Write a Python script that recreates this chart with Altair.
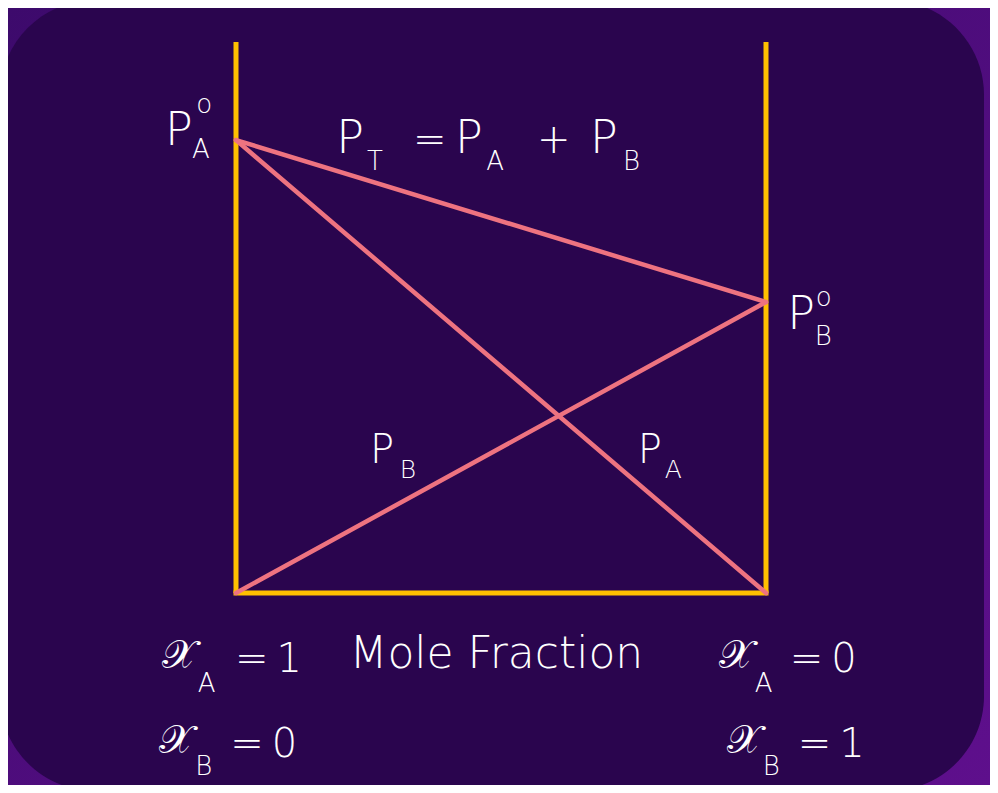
import altair as alt
import pandas as pd

# mole fraction of B, left to right
x_b = [0.0, 1.0]
# pressures (arbitrary units, frame top = 100)
p_a_star = 82.2
p_b_star = 52.8
series = ["P_T", "P_A", "P_B"]
series_start = [p_a_star, p_a_star, 0.0]
series_end = [p_b_star, 0.0, p_b_star]

rows = []
for s, a, b in zip(series, series_start, series_end):
    rows.append({"series": s, "xb": x_b[0], "p": a})
    rows.append({"series": s, "xb": x_b[1], "p": b})
lines_df = pd.DataFrame(rows)

frame_top = 100.0

# text annotations: label, x (mole fraction B), y (pressure), font size
labels = ["P", "o", "A",
          "P", "T", "=", "P", "A", "+", "P", "B",
          "P", "o", "B",
          "P", "B", "P", "A",
          "\U0001D4B3", "A", "=\u20091", "Mole Fraction", "\U0001D4B3", "A", "=\u20090",
          "\U0001D4B3", "B", "=\u20090", "\U0001D4B3", "B", "=\u20091"]
lab_x = [-0.134, -0.075, -0.083,
         0.189, 0.247, 0.334, 0.413, 0.472, 0.568, 0.668, 0.730,
         1.040, 1.094, 1.092,
         0.253, 0.309, 0.758, 0.809,
         -0.140, -0.072, -0.002, 0.214, 0.911, 0.979, 1.045,
         -0.145, -0.077, -0.011, 0.926, 0.994, 1.060]
lab_y = [81.3, 87.1, 78.9,
         79.9, 76.8, 79.9, 79.9, 76.8, 79.9, 79.9, 76.8,
         47.9, 52.1, 45.0,
         23.6, 20.9, 23.6, 20.9,
         -13.6, -18.0, -14.3, -13.6, -13.6, -18.0, -14.3,
         -29.0, -33.0, -29.8, -29.0, -33.0, -29.8]
lab_size = [46, 26, 26,
            46, 26, 40, 46, 26, 40, 46, 26,
            46, 26, 26,
            40, 25, 40, 25,
            40, 26, 40, 44, 40, 26, 40,
            40, 26, 40, 40, 26, 40]
lab_df = pd.DataFrame({"label": labels, "x": lab_x, "y": lab_y, "size": lab_size})

W, H = 982, 777
xs = alt.Scale(domain=[0, 1], range=[228, 758])
ys = alt.Scale(domain=[0, 100], range=[585, 34])

bg_outer = alt.Chart(pd.DataFrame({"a": [0]})).mark_rect(
    color={"gradient": "linear", "x1": 0, "y1": 0, "x2": 1, "y2": 1,
           "stops": [{"offset": 0, "color": "#3d0a6c"}, {"offset": 1, "color": "#5e0f8c"}]}
).encode(x=alt.value(0), x2=alt.value(W), y=alt.value(0), y2=alt.value(H))

bg_inner = alt.Chart(pd.DataFrame({"a": [0]})).mark_rect(
    color="#2a054e", cornerRadius=95
).encode(x=alt.value(-8), x2=alt.value(W - 6), y=alt.value(-8), y2=alt.value(H + 6))

frame_df = pd.DataFrame({"x": [0.0, 1.0], "y": [0.0, 0.0], "y2": [frame_top, frame_top]})
vrules = alt.Chart(frame_df).mark_rule(color="#ffc000", strokeWidth=5).encode(
    x=alt.X("x:Q", scale=xs, axis=None),
    y=alt.Y("y:Q", scale=ys, axis=None),
    y2="y2:Q",
)
bottom_df = pd.DataFrame({"x": [0.0], "x2": [1.0], "y": [0.0]})
hrule = alt.Chart(bottom_df).mark_rule(color="#ffc000", strokeWidth=5, strokeCap="square").encode(
    x=alt.X("x:Q", scale=xs, axis=None),
    x2="x2:Q",
    y=alt.Y("y:Q", scale=ys, axis=None),
)

lines = alt.Chart(lines_df).mark_line(strokeWidth=4.5, strokeCap="round").encode(
    x=alt.X("xb:Q", scale=xs, axis=None),
    y=alt.Y("p:Q", scale=ys, axis=None),
    detail="series:N",
    color=alt.value("#ee7380"),
)

texts = alt.Chart(lab_df).mark_text(
    align="left", baseline="alphabetic", color="white", font="DejaVu Sans", fontWeight=200
).encode(
    x=alt.X("x:Q", scale=xs, axis=None),
    y=alt.Y("y:Q", scale=ys, axis=None),
    text="label:N",
    size=alt.Size("size:Q", scale=None, legend=None),
)

chart = alt.layer(bg_outer, bg_inner, vrules, hrule, lines, texts).properties(
    width=W, height=H, padding=0, autosize=alt.AutoSizeParams(type="none"),
    background="#3d0a6c",
).configure_view(stroke=None, clip=False)

chart.save("out.html", embed_options={"renderer": "svg", "actions": False})
